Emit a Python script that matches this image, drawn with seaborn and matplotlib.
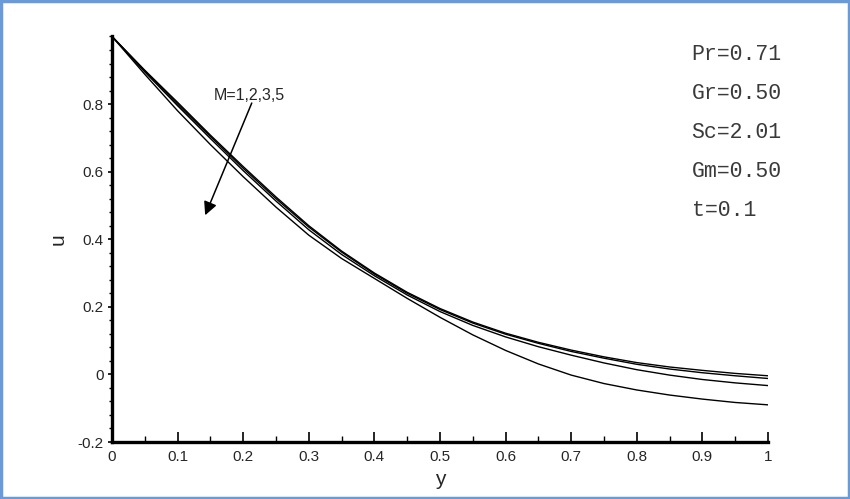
import matplotlib
matplotlib.use("Agg")
import matplotlib.pyplot as plt
import seaborn as sns
import pandas as pd
from matplotlib.patches import Rectangle
from matplotlib.ticker import MultipleLocator

# values
y_pos = [0.0, 0.05, 0.1, 0.15, 0.2, 0.25, 0.3, 0.35, 0.4, 0.45, 0.5,
         0.55, 0.6, 0.65, 0.7, 0.75, 0.8, 0.85, 0.9, 0.95, 1.0]
u_m1 = [1.0, 0.900, 0.805, 0.708, 0.615, 0.525, 0.440, 0.365, 0.300, 0.243, 0.195,
        0.155, 0.122, 0.095, 0.072, 0.052, 0.035, 0.022, 0.012, 0.003, -0.004]
u_m2 = [1.0, 0.898, 0.800, 0.704, 0.610, 0.520, 0.436, 0.362, 0.297, 0.240, 0.192,
        0.152, 0.119, 0.092, 0.068, 0.048, 0.030, 0.016, 0.005, -0.004, -0.012]
u_m3 = [1.0, 0.895, 0.795, 0.698, 0.603, 0.513, 0.428, 0.355, 0.292, 0.235, 0.186,
        0.145, 0.111, 0.082, 0.057, 0.034, 0.014, -0.002, -0.015, -0.025, -0.033]
u_m5 = [1.0, 0.888, 0.780, 0.680, 0.585, 0.495, 0.412, 0.343, 0.284, 0.225, 0.169,
        0.117, 0.071, 0.031, -0.002, -0.027, -0.046, -0.061, -0.073, -0.083, -0.090]

params = ["Pr=0.71", "Gr=0.50", "Sc=2.01", "Gm=0.50", "t=0.1"]

sns.set_style("white")
plt.rcParams['font.family'] = ['Liberation Sans', 'DejaVu Sans']

frames = []
for m, u in zip(["1", "2", "3", "5"], [u_m1, u_m2, u_m3, u_m5]):
    frames.append(pd.DataFrame({"y": y_pos, "u": u, "M": m}))
data = pd.concat(frames, ignore_index=True)

fig = plt.figure(figsize=(8.5, 4.99), dpi=100)
ax = fig.add_axes([0.1318, 0.1142, 0.7717, 0.8127])

sns.lineplot(data=data, x="y", y="u", hue="M", palette=["black"] * 4,
             linewidth=1.0, legend=False, ax=ax, sort=False)

ax.set_xlim(0, 1)
ax.set_ylim(-0.2, 1.0)
ax.xaxis.set_major_locator(MultipleLocator(0.1))
ax.xaxis.set_minor_locator(MultipleLocator(0.05))
ax.yaxis.set_major_locator(MultipleLocator(0.2))
ax.yaxis.set_minor_locator(MultipleLocator(0.04))
ax.set_xticks([0, 0.1, 0.2, 0.3, 0.4, 0.5, 0.6, 0.7, 0.8, 0.9, 1.0])
ax.set_xticklabels(["0", "0.1", "0.2", "0.3", "0.4", "0.5", "0.6", "0.7", "0.8", "0.9", "1"])
ax.set_yticks([-0.2, 0, 0.2, 0.4, 0.6, 0.8])
ax.set_yticklabels(["-0.2", "0", "0.2", "0.4", "0.6", "0.8"])

for side in ["top", "right"]:
    ax.spines[side].set_visible(False)
for side in ["left", "bottom"]:
    ax.spines[side].set_color("black")
    ax.spines[side].set_linewidth(2.4)

ax.tick_params(axis="x", which="major", direction="in", length=7, width=1.2,
               color="black", labelsize=11, pad=6, bottom=True)
ax.tick_params(axis="x", which="minor", direction="in", length=4, width=1.0,
               color="black", bottom=True)
ax.tick_params(axis="y", which="major", direction="out", length=3, width=1.2,
               color="black", labelsize=11, pad=3, left=True)
ax.tick_params(axis="y", which="minor", direction="out", length=2, width=1.0,
               color="black", left=True)

ax.set_xlabel("y", fontsize=15, labelpad=4)
ax.set_ylabel("u", fontsize=15, labelpad=7)

for i, p in enumerate(params):
    ax.text(0.8836, 0.947 - i * 0.1152, p, family="Liberation Mono",
            fontsize=15.5, va="center", ha="left", color="#3a3a3a")

ax.text(0.21, 0.824, "M=1,2,3,5", fontsize=11.5, ha="center", va="center")
ax.annotate("", xy=(0.142, 0.471), xytext=(0.213, 0.803),
            arrowprops=dict(arrowstyle="-|>", color="black", lw=1.1,
                            mutation_scale=20, shrinkA=0, shrinkB=0))

fig.patches.append(Rectangle((0.0015, 0.002), 0.997, 0.995, transform=fig.transFigure,
                             fill=False, edgecolor="#6a9bd8", linewidth=2.5))

fig.savefig("out.png", dpi=100)
